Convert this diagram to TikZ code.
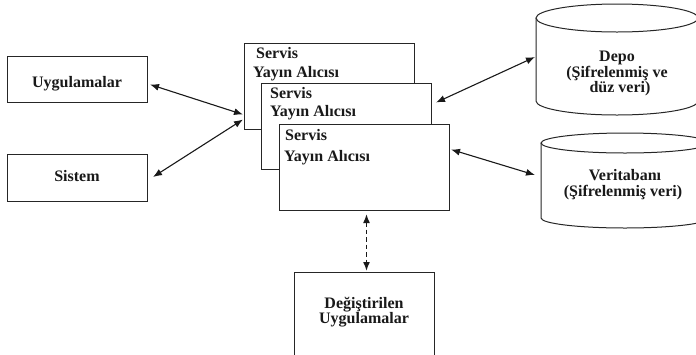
\documentclass[tikz,border=0pt]{standalone}
\usepackage{fontspec}
\setmainfont{Liberation Serif}
\usetikzlibrary{arrows.meta}
\begin{document}
\begin{tikzpicture}[x=1pt,y=-1pt,
  box/.style={draw=black!85, line width=1pt, fill=white, inner sep=0pt, anchor=north west},
  txt/.style={font=\bfseries\fontsize{16}{16}\selectfont, inner sep=0pt, text=black!90},
  cyl/.style={draw=black!85, line width=1pt, fill=white},
  arr/.style={line width=1.1pt, draw=black!90, {Latex[length=9pt,width=7pt]}-{Latex[length=9pt,width=7pt]}},
  darr/.style={arr, line width=1.6pt, dash pattern=on 4.5pt off 3pt}]
\useasboundingbox (0,0) rectangle (696,354);
\clip (0,0) rectangle (696,354);

% left boxes
\node[box, minimum width=140pt, minimum height=46pt] (u) at (7,56) {};
\node[txt, anchor=base] (ut) at (77,87) {Uygulamalar};
\node[box, minimum width=140pt, minimum height=47pt] (si) at (7,154) {};
\node[txt, anchor=base] (sit) at (77,181) {Sistem};

% stacked service boxes
\node[box, minimum width=170pt, minimum height=86pt] (s1) at (244,43) {};
\node[txt, anchor=base west] (s1a) at (256,58) {Servis};
\node[txt, anchor=base west] (s1b) at (253,77) {Yayın Alıcısı};
\node[box, minimum width=170pt, minimum height=86pt] (s2) at (261,83) {};
\node[txt, anchor=base west] (s2a) at (270,98) {Servis};
\node[txt, anchor=base west] (s2b) at (270,116) {Yayın Alıcısı};
\node[box, minimum width=170pt, minimum height=86pt] (s3) at (279,124) {};
\node[txt, anchor=base west] (s3a) at (285,140) {Servis};
\node[txt, anchor=base west] (s3b) at (284,161) {Yayın Alıcısı};

% Depo cylinder
\draw[cyl] (536,18) -- (536,101) arc[start angle=180, end angle=0, x radius=81, y radius=14] -- (698,18);
\draw[cyl] (617,18) ellipse [x radius=81, y radius=14];
\node[txt, anchor=base] (d1) at (617,61) {Depo};
\node[txt, anchor=base] (d2) at (617,77) {(Şifrelenmiş ve};
\node[txt, anchor=base] (d3) at (620,92) {düz veri)};
\coordinate (depoL) at (535,57);

% Veritabani cylinder
\draw[cyl] (541,143) -- (541,218) arc[start angle=180, end angle=0, x radius=84, y radius=10] -- (709,143);
\draw[cyl] (625,143) ellipse [x radius=84, y radius=10];
\node[txt, anchor=base] (v1) at (625,180) {Veritabanı};
\node[txt, anchor=base] (v2) at (623,196) {(Şifrelenmiş veri)};
\coordinate (vtL) at (535,175);

% bottom box
\node[box, minimum width=140pt, minimum height=100pt] (dg) at (294,272) {};
\node[txt, anchor=base] (dg1) at (364,308) {Değiştirilen};
\node[txt, anchor=base] (dg2) at (364,323) {Uygulamalar};

% connectors
\draw[arr] ([xshift=2pt,yshift=-5pt]u.east) -- ([xshift=-1pt,yshift=-28pt]s1.west);
\draw[arr] ([xshift=5pt,yshift=1pt]si.east) -- ([xshift=-1pt,yshift=-33pt]s1.west);
\draw[arr] ([xshift=4pt,yshift=24pt]s2.east) -- (depoL);
\draw[arr] ([xshift=1pt,yshift=18pt]s3.east) -- (vtL);
\draw[darr] ([xshift=2pt,yshift=-3pt]s3.south) -- ([xshift=2pt,yshift=1pt]dg.north);
\end{tikzpicture}
\end{document}
